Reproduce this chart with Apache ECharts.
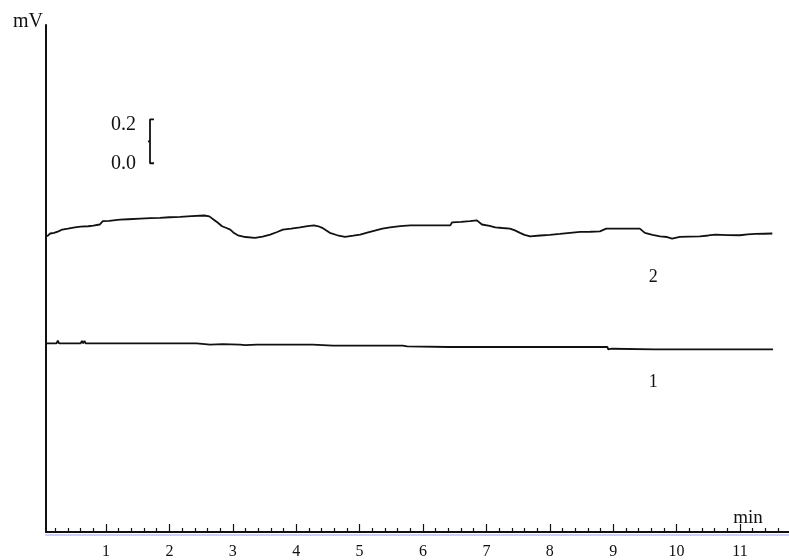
<!DOCTYPE html>
<html><head><meta charset="utf-8">
<script src="https://cdn.jsdelivr.net/npm/echarts@6/dist/echarts.min.js"></script>
<style>html,body{margin:0;padding:0;background:#fff}#c{width:789px;height:560px}</style>
</head><body><div id="c"></div>
<script>
// Time axis (min) tick labels
const majorTicks = [1, 2, 3, 4, 5, 6, 7, 8, 9, 10, 11];
const minorTicks = [];
for (let i = 0; i < 12; i++) { for (let k = 1; k < 5; k++) { minorTicks.push(+(i + k * 0.2).toFixed(1)); } }

// Trace 2 [time (min), signal (mV, relative to scale bar zero)]
const trace2 = [
  [0.07,-0.333],[0.10,-0.328],[0.12,-0.320],[0.18,-0.317],[0.25,-0.310],[0.31,-0.302],[0.40,-0.298],
  [0.51,-0.292],[0.60,-0.289],[0.72,-0.287],[0.80,-0.284],[0.90,-0.279],[0.95,-0.264],[1.05,-0.262],
  [1.22,-0.257],[1.35,-0.255],[1.54,-0.252],[1.70,-0.250],[1.85,-0.249],[2.00,-0.246],[2.17,-0.244],
  [2.35,-0.241],[2.55,-0.238],[2.63,-0.242],[2.70,-0.257],[2.76,-0.270],[2.83,-0.287],[2.90,-0.295],
  [2.96,-0.302],[3.02,-0.318],[3.08,-0.328],[3.20,-0.336],[3.35,-0.340],[3.47,-0.334],[3.59,-0.325],
  [3.70,-0.313],[3.79,-0.302],[3.92,-0.298],[4.06,-0.292],[4.18,-0.286],[4.28,-0.283],[4.35,-0.287],
  [4.41,-0.294],[4.47,-0.305],[4.53,-0.317],[4.65,-0.328],[4.77,-0.335],[4.90,-0.330],[5.01,-0.325],
  [5.12,-0.316],[5.24,-0.307],[5.36,-0.298],[5.48,-0.292],[5.64,-0.286],[5.80,-0.283],[6.10,-0.283],
  [6.43,-0.283],[6.46,-0.269],[6.60,-0.267],[6.74,-0.264],[6.85,-0.260],[6.93,-0.279],[7.05,-0.285],
  [7.14,-0.292],[7.25,-0.295],[7.37,-0.298],[7.45,-0.306],[7.53,-0.317],[7.60,-0.326],[7.69,-0.333],
  [7.85,-0.329],[8.00,-0.326],[8.16,-0.322],[8.32,-0.317],[8.48,-0.313],[8.64,-0.312],[8.79,-0.310],
  [8.89,-0.298],[9.10,-0.298],[9.42,-0.298],[9.50,-0.317],[9.62,-0.326],[9.74,-0.333],[9.85,-0.336],
  [9.93,-0.343],[10.05,-0.335],[10.20,-0.334],[10.37,-0.333],[10.50,-0.329],[10.61,-0.325],[10.80,-0.327],
  [11.00,-0.328],[11.12,-0.324],[11.24,-0.322],[11.38,-0.321],[11.51,-0.320]
];

// Trace 1
const trace1 = [
  [0.054,-0.821],[0.22,-0.821],[0.24,-0.808],[0.26,-0.821],[0.60,-0.821],[0.62,-0.809],[0.64,-0.821],
  [0.66,-0.809],[0.68,-0.821],[2.43,-0.821],[2.44,-0.826],[2.64,-0.826],[2.65,-0.824],[2.84,-0.824],
  [2.85,-0.827],[3.11,-0.826],[3.20,-0.829],[3.38,-0.826],[4.26,-0.826],[4.27,-0.831],[4.58,-0.831],
  [4.59,-0.828],[4.80,-0.831],[5.68,-0.831],[5.69,-0.836],[5.75,-0.834],[5.76,-0.837],[6.41,-0.837],
  [6.42,-0.834],[6.71,-0.837],[7.48,-0.837],[7.49,-0.834],[8.91,-0.837],[8.92,-0.848],[8.98,-0.845],
  [9.00,-0.848],[9.66,-0.848],[9.67,-0.845],[9.94,-0.848],[10.60,-0.848],[10.61,-0.845],[10.90,-0.848],
  [11.52,-0.848]
];

// Scale bar (0.0 – 0.2 mV) drawn in data units
const scaleBar = [[1.757,0.2],[1.694,0.2],[1.694,0.1],[1.662,0.1],[1.694,0.1],[1.694,0.0],[1.757,0.0]];
const scaleLabels = [[1.694,0.2,'0.2'],[1.694,0.0,'0.0']];
const traceLabels = [[9.63,-0.52,'2'],[9.63,-1.0,'1']];

const serif = "'Liberation Serif','Times New Roman',serif";
const ink = '#111';
const textColor = '#111';
const chart = echarts.init(document.getElementById('c'), null, {renderer:'canvas'});
const xBase = {
  type:'value', min:0.0536, max:11.773, gridIndex:0, position:'bottom',
  splitLine:{show:false}
};
chart.setOption({
  animation:false,
  backgroundColor:'#fff',
  grid:{left:46, right:0, top:25, bottom:27},
  xAxis:[
    Object.assign({}, xBase, {
      axisLine:{show:true, onZero:false, lineStyle:{color:ink, width:2, shadowColor:'#cfcff3', shadowOffsetY:3, shadowBlur:0}},
      axisTick:{show:true, inside:true, length:8, customValues:majorTicks, lineStyle:{color:ink, width:1.2}},
      axisLabel:{show:true, customValues:majorTicks, margin:12, color:textColor, fontFamily:serif, fontSize:16}
    }),
    Object.assign({}, xBase, {
      axisLine:{show:false, onZero:false},
      axisTick:{show:true, inside:true, length:4, customValues:minorTicks, lineStyle:{color:ink, width:1.2}},
      axisLabel:{show:false}
    })
  ],
  yAxis:{
    type:'value', min:-1.68, max:0.63,
    axisLine:{show:true, onZero:false, lineStyle:{color:ink, width:2}},
    axisTick:{show:false}, axisLabel:{show:false}, splitLine:{show:false}
  },
  graphic:[
    {type:'text', x:43, y:22, style:{text:'mV', align:'right', verticalAlign:'middle', font:'20px '+serif, fill:textColor}},
    {type:'text', x:748, y:518, style:{text:'min', align:'center', verticalAlign:'middle', font:'19px '+serif, fill:textColor}}
  ],
  series:[
    {type:'line', name:'2', data:trace2, xAxisIndex:0, symbol:'none', lineStyle:{color:ink, width:1.8}},
    {type:'line', name:'1', data:trace1, xAxisIndex:0, symbol:'none', lineStyle:{color:ink, width:1.8}},
    {type:'line', name:'scale', data:scaleBar, xAxisIndex:0, symbol:'none', lineStyle:{color:ink, width:1.8}},
    {type:'scatter', xAxisIndex:0, symbolSize:0, itemStyle:{opacity:1},
      data:scaleLabels.map((d, i) => ({value:d, label:{offset:[0, i === 0 ? 5 : 0]}})),
      label:{show:true, opacity:1, position:'left', distance:14, formatter:p=>p.value[2], color:textColor, fontFamily:serif, fontSize:20}},
    {type:'scatter', data:traceLabels, xAxisIndex:0, symbolSize:0, itemStyle:{opacity:1},
      label:{show:true, opacity:1, position:[0,0], align:'center', verticalAlign:'middle', formatter:p=>p.data[2], color:textColor, fontFamily:serif, fontSize:18}}
  ]
});
</script></body></html>
